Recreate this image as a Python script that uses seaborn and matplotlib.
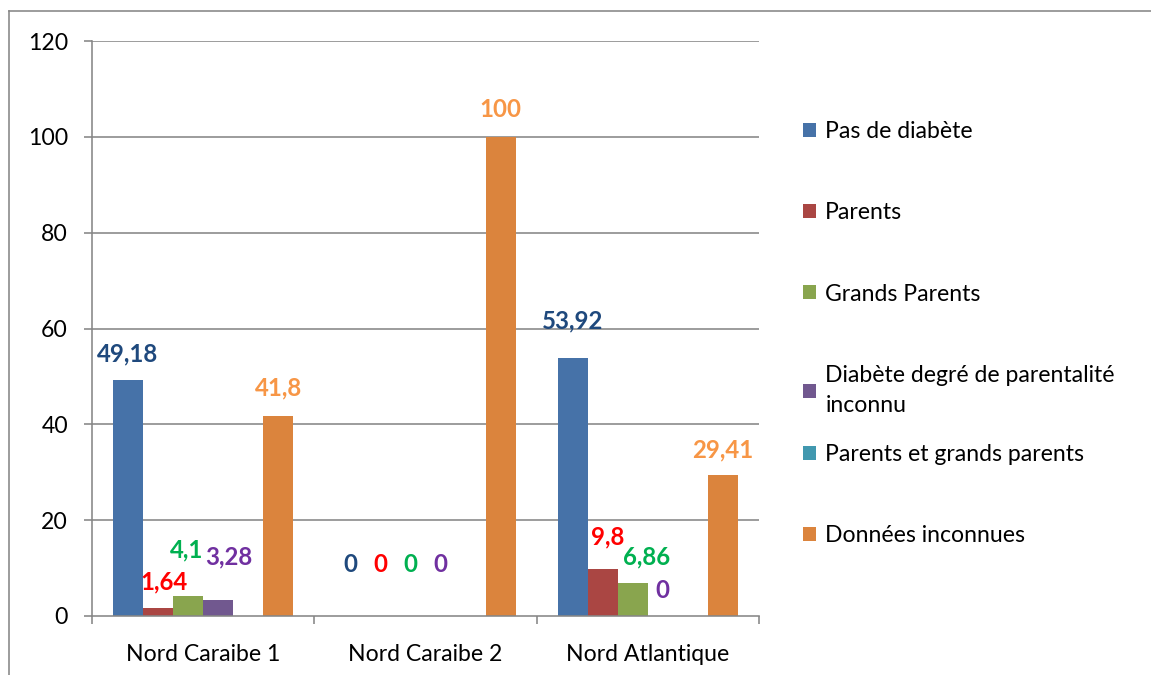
import matplotlib
matplotlib.use("Agg")
import matplotlib.pyplot as plt
from matplotlib.lines import Line2D
import seaborn as sns
import pandas as pd
import numpy as np

# Données (pourcentages)
regions = ["Nord Caraibe 1", "Nord Caraibe 2", "Nord Atlantique"]
series = ["Pas de diabète", "Parents", "Grands Parents",
          "Diabète degré de parentalité\ninconnu", "Parents et grands parents",
          "Données inconnues"]
pas_de_diabete = [49.18, 0, 53.92]
parents = [1.64, 0, 9.8]
grands_parents = [4.1, 0, 6.86]
degre_inconnu = [3.28, 0, 0]
parents_et_grands_parents = [np.nan, np.nan, np.nan]
donnees_inconnues = [41.8, 100, 29.41]
y_ticks = [0, 20, 40, 60, 80, 100, 120]

values = [pas_de_diabete, parents, grands_parents, degre_inconnu,
          parents_et_grands_parents, donnees_inconnues]

rows = []
for s, vals in zip(series, values):
    for r, v in zip(regions, vals):
        rows.append({"Region": r, "Serie": s, "Valeur": v})
df = pd.DataFrame(rows)

bar_colors = ["#4672A8", "#AA4643", "#89A54E", "#71588F", "#4198AF", "#DB843D"]
label_colors = ["#1F497D", "#FF0000", "#00B050", "#7030A0", None, "#F79646"]

# décalages des étiquettes (px) : (dx, dy au-dessus de la barre)
label_offsets = {
    (0, 0): (-1, 26), (0, 1): (6, 26), (0, 2): (-2, 46), (0, 3): (11, 43), (0, 5): (0, 28),
    (1, 0): (0, 51), (1, 1): (0, 51), (1, 2): (0, 51), (1, 3): (0, 51), (1, 5): (0, 27),
    (2, 0): (0, 37), (2, 1): (5, 32), (2, 2): (14, 26), (2, 3): (0, 26), (2, 5): (0, 25),
}

plt.rcParams["font.family"] = ["Lato", "DejaVu Sans"]
W, H = 1151, 675
fig = plt.figure(figsize=(W / 72, H / 72), dpi=72)
ax = fig.add_axes([92 / W, (H - 616) / H, (759 - 92) / W, (616 - 41) / H])

bar_width = 0.81
sns.barplot(data=df, x="Region", y="Valeur", hue="Serie", order=regions,
            hue_order=series, palette=bar_colors, width=bar_width,
            saturation=1, dodge=True, errorbar=None, ax=ax, legend=True)

grid_col = "#868686"
ax.set_ylim(0, 120)
ax.set_xlim(-0.5, 2.5)
ax.set_yticks(y_ticks)
ax.set_yticklabels([str(t) for t in y_ticks])
for t in y_ticks[1:]:
    ax.axhline(t, color=grid_col, lw=1.6, zorder=0)

ax.set_xticks([-0.5, 0.5, 1.5, 2.5])
ax.set_xticklabels([])
ax.set_xticks(range(len(regions)), minor=True)
ax.set_xticklabels(regions, minor=True)
ax.tick_params(axis="x", which="major", length=8, width=1.6, color=grid_col)
ax.tick_params(axis="x", which="minor", length=0, pad=28, labelsize=23)
ax.tick_params(axis="y", length=8, width=1.6, color=grid_col, pad=16, labelsize=23)
ax.set_xlabel("")
ax.set_ylabel("")
for side in ["top", "right"]:
    ax.spines[side].set_visible(False)
for side in ["left", "bottom"]:
    ax.spines[side].set_color(grid_col)
    ax.spines[side].set_linewidth(1.6)

# étiquettes de données
n = len(series)
step = bar_width / n
for j, vals in enumerate(values):
    if label_colors[j] is None:
        continue
    for i, v in enumerate(vals):
        xc = i - bar_width / 2 + step * (j + 0.5)
        dx, dy = label_offsets.get((i, j), (0, 27))
        txt = f"{v:g}".replace(".", ",")
        ax.annotate(txt, xy=(xc, v), xytext=(dx, dy), textcoords="offset points",
                    ha="center", va="center", fontsize=24, fontweight="bold",
                    color=label_colors[j], annotation_clip=False)

# légende (en deux blocs pour reproduire l'espacement d'Excel)
handles, labels = ax.get_legend_handles_labels()
leg_kw = dict(loc="upper left", bbox_transform=fig.transFigure, frameon=False,
              fontsize=23, handlelength=0.57, handleheight=0.57, handletextpad=0.4,
              labelspacing=2.62, borderpad=0, borderaxespad=0)
leg1 = ax.legend(handles[:4], labels[:4], bbox_to_anchor=(803 / W, 1 - 121 / H), **leg_kw)
leg1.get_texts()[3].set_linespacing(1.55)
ax.add_artist(leg1)
ax.legend(handles[4:], labels[4:], bbox_to_anchor=(803 / W, 1 - 444 / H), **leg_kw)

# cadre extérieur
fig.add_artist(Line2D([9 / W, 1], [1 - 11 / H, 1 - 11 / H], color=grid_col, lw=1.6))
fig.add_artist(Line2D([9 / W, 9 / W], [0, 1 - 11 / H], color=grid_col, lw=1.6))

fig.savefig("out.png", dpi=72, facecolor="white")
